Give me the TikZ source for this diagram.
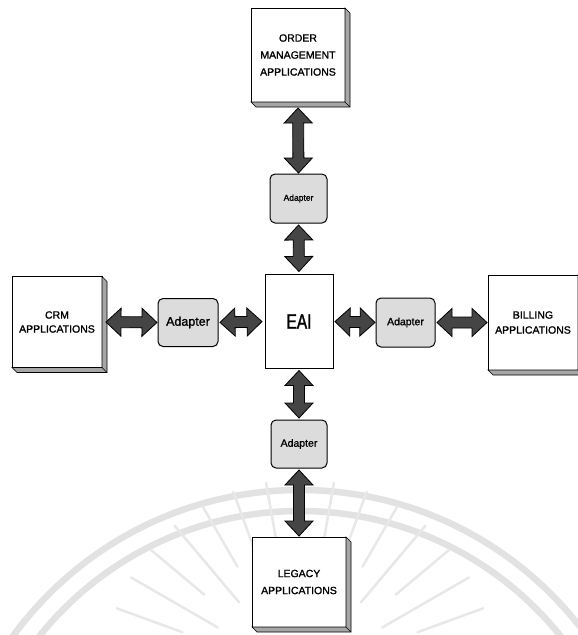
\documentclass[tikz,border=0pt]{standalone}
\usepackage{fontspec}
\setmainfont[FakeBold=1.3]{Liberation Sans}
\newfontfamily\hubfont[FakeStretch=0.74,FakeBold=1.3]{Liberation Sans}
\usetikzlibrary{calc}

\definecolor{arrowgray}{HTML}{454545}
\definecolor{adaptergray}{HTML}{DCDCDC}
\definecolor{sidegray}{HTML}{A6A6A6}
\definecolor{markgray}{HTML}{E2E2E2}
\definecolor{raygray}{HTML}{E8E8E8}

\tikzset{
  appbox/.style={draw=black, line width=0.9pt, fill=white, outer sep=0pt,
    inner sep=0pt, align=center, minimum width=94pt, minimum height=92pt,
    font=\fontsize{10.5}{17}\selectfont},
  hubbox/.style={draw=black, line width=0.9pt, fill=white, outer sep=0pt,
    minimum width=68pt, minimum height=94pt, font=\hubfont\fontsize{21}{24}\selectfont},
  adapterbox/.style={draw=black, line width=1pt, fill=adaptergray, outer sep=0pt,
    rounded corners=5pt, inner sep=0pt, minimum width=58pt, minimum height=49pt},
  sidefill/.style={fill=sidegray, draw=black, line width=0.6pt},
  blockarrow/.style={fill=arrowgray, draw=black, line width=0.8pt, line join=miter},
  watermark/.style={draw=markgray, line width=6.5pt},
  ray/.style={draw=raygray, line width=2.5pt, line cap=round}
}

% extruded right and bottom faces of a box node
\newcommand\sides[1]{%
  \filldraw[sidefill] (#1.north east) -- ++(5,5) -- ($(#1.south east)+(5,5)$)
    -- ($(#1.south west)+(5,5)$) -- (#1.south west) -- (#1.south east) -- cycle;
  \draw[line width=0.6pt] (#1.south east) -- ++(5,5);
}

% double-headed block arrow between two anchors, shortened at each end
\newcommand\dblarrow[4]{%
  \coordinate (ba) at ($(#1)!#3!(#2)$);
  \coordinate (bb) at ($(#2)!#4!(#1)$);
  \filldraw[blockarrow] (ba)
    -- ($(ba)!15pt!(bb)!14pt!90:(bb)$)
    -- ($(ba)!15pt!(bb)!5.5pt!90:(bb)$)
    -- ($(bb)!15pt!(ba)!5.5pt!-90:(ba)$)
    -- ($(bb)!15pt!(ba)!14pt!-90:(ba)$)
    -- (bb)
    -- ($(bb)!15pt!(ba)!14pt!90:(ba)$)
    -- ($(bb)!15pt!(ba)!5.5pt!90:(ba)$)
    -- ($(ba)!15pt!(bb)!5.5pt!-90:(bb)$)
    -- ($(ba)!15pt!(bb)!14pt!-90:(bb)$)
    -- cycle;
}

\begin{document}
\begin{tikzpicture}[x=1pt, y=-1pt]
  \useasboundingbox (0,0) rectangle (578,635);
  \clip (0,0) rectangle (578,635);
  \fill[white] (0,0) rectangle (578,635);

  % faint seal in the background
  \draw[watermark] (300,845) circle[radius=355];
  \draw[watermark] (300,845) circle[radius=334];
  \foreach \a [count=\i] in {200,210,...,340} {
    \pgfmathsetmacro\rin{mod(\i,2)==0 ? 95 : 125}
    \draw[ray] ($(300,675)+(\a:\rin)$) -- ($(300,675)+(\a:195)$);
  }

  % applications
  \node[appbox, minimum width=94pt, minimum height=94pt] (order) at (298,55)
    {ORDER\\MANAGEMENT\\APPLICATIONS};
  \node[appbox, minimum width=90pt, minimum height=91pt,
        font=\fontsize{10.5}{14}\selectfont] (crm) at (57,322)
    {CRM\\APPLICATIONS};
  \node[appbox, minimum width=90pt, minimum height=95pt,
        font=\fontsize{10.5}{15}\selectfont] (billing) at (533,322.5)
    {BILLING\\APPLICATIONS};
  \node[appbox, minimum width=94pt, minimum height=90pt] (legacy) at (299,582)
    {LEGACY\\APPLICATIONS};
  \sides{order}
  \sides{crm}
  \sides{billing}
  \sides{legacy}

  % integration hub
  \node[hubbox] (eai) at (299,321.5) {EAI};

  % adapters
  \node[adapterbox, minimum width=57pt, font=\fontsize{8.5}{10}\selectfont]
    (adt) at (298.5,198.5) {Adapter};
  \node[adapterbox, minimum width=60pt, minimum height=48pt,
        font=\fontsize{12.5}{14}\selectfont] (adl) at (188,322.5) {Adapter};
  \node[adapterbox, minimum width=59pt, font=\fontsize{10.5}{12}\selectfont]
    (adr) at (405.5,322.5) {Adapter};
  \node[adapterbox, minimum width=56pt, minimum height=48pt,
        font=\fontsize{10.5}{12}\selectfont] (adb) at (299,444) {Adapter};

  % connectors
  \dblarrow{order.south}{adt.north}{6pt}{1pt}
  \dblarrow{adt.south}{eai.north}{2pt}{3pt}
  \dblarrow{eai.east}{adr.west}{2pt}{1pt}
  \dblarrow{adr.east}{billing.west}{2pt}{1pt}
  \dblarrow{crm.east}{adl.west}{4pt}{1pt}
  \dblarrow{adl.east}{eai.west}{2pt}{3pt}
  \dblarrow{eai.south}{adb.north}{2pt}{2pt}
  \dblarrow{adb.south}{legacy.north}{2pt}{1pt}
\end{tikzpicture}
\end{document}
